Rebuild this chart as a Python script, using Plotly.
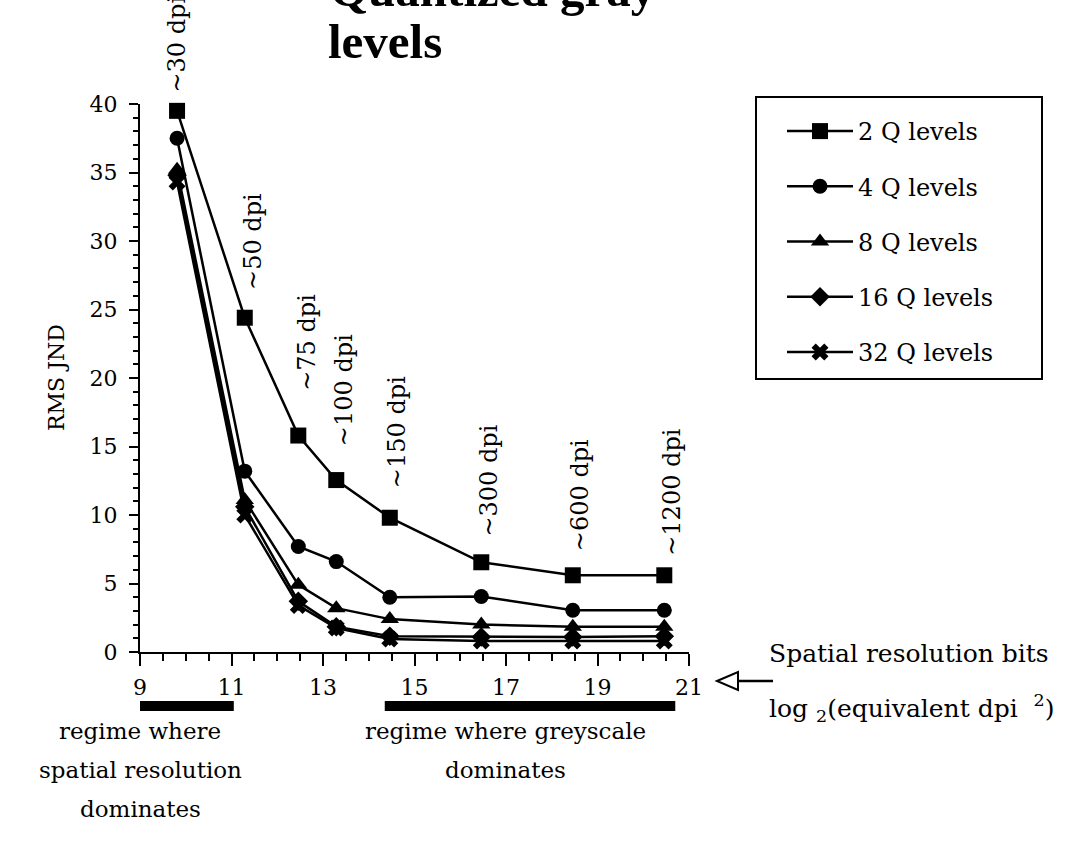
import plotly.graph_objects as go

# ---------------- data ----------------
dpi_labels = ["~30 dpi", "~50 dpi", "~75 dpi", "~100 dpi", "~150 dpi",
              "~300 dpi", "~600 dpi", "~1200 dpi"]
x_bits = [9.81, 11.29, 12.46, 13.29, 14.46, 16.46, 18.46, 20.46]
q2 = [39.5, 24.4, 15.8, 12.55, 9.8, 6.55, 5.6, 5.6]
q4 = [37.5, 13.2, 7.7, 6.6, 4.0, 4.05, 3.05, 3.05]
q8 = [35.2, 11.1, 4.9, 3.2, 2.4, 2.0, 1.85, 1.85]
q16 = [34.8, 10.6, 3.7, 1.85, 1.15, 1.1, 1.1, 1.15]
q32 = [34.3, 10.0, 3.4, 1.75, 0.95, 0.8, 0.8, 0.8]
series_names = ["2 Q levels", "4 Q levels", "8 Q levels", "16 Q levels", "32 Q levels"]
series_values = [q2, q4, q8, q16, q32]
label_y = [40.66, 26.3, 18.9, 14.9, 11.8, 8.3, 7.2, 6.9]   # bottom of each dpi label
x_ticks = [9, 11, 13, 15, 17, 19, 21]
y_ticks = [0, 5, 10, 15, 20, 25, 30, 35, 40]

# ---------------- style ----------------
FONT = "DejaVu Serif"
TFONT = "Liberation Serif"
symbols = ["square", "circle", "triangle-up", "diamond", "x"]
msizes = [16, 15, 16, 15, 15]

L, R, T, B = 140, 381, 104, 198
W, H = 1070, 850
PW, PH = W - L - R, H - T - B
YMAX = 40.0


def xp(px):
    return (px - L) / PW


def yp(py):
    return (H - B - py) / PH


fig = go.Figure()
for name, vals, sym, ms in zip(series_names, series_values, symbols, msizes):
    fig.add_trace(go.Scatter(
        x=x_bits, y=vals, name=name, legendgroup=name,
        mode="lines+markers",
        line=dict(color="black", width=2.5),
        marker=dict(symbol=sym, size=ms, color="black",
                    line=dict(color="black", width=0)),
        cliponaxis=False,
    ))

annotations = []
# dpi labels (paper y so that the top one is not hidden)
for i, (lab, xv, yv) in enumerate(zip(dpi_labels, x_bits, label_y)):
    annotations.append(dict(
        x=xv, y=yv / YMAX, xref="x", yref="paper", text=lab, showarrow=False,
        textangle=-90, xanchor="center", yanchor="bottom",
        xshift=0 if i == 0 else 8,
        font=dict(family=FONT, size=24, color="black")))

# title (partly cut at the top)
annotations.append(dict(x=xp(328), y=yp(-11), xref="paper", yref="paper",
                        text="<b>Quantized gray</b>", showarrow=False,
                        xanchor="left", yanchor="middle",
                        font=dict(family=TFONT, size=49, color="black")))
annotations.append(dict(x=xp(326), y=yp(41), xref="paper", yref="paper",
                        text="<b>levels</b>", showarrow=False,
                        xanchor="left", yanchor="middle",
                        font=dict(family=TFONT, size=49, color="black")))
# y title
annotations.append(dict(x=xp(56), y=0.5, xref="paper", yref="paper",
                        text="RMS JND", showarrow=False, textangle=-90,
                        xanchor="center", yanchor="middle",
                        font=dict(family=FONT, size=22, color="black")))
# x axis description on the right
annotations.append(dict(x=xp(767), y=yp(653), xref="paper", yref="paper",
                        text="Spatial resolution bits", showarrow=False,
                        xanchor="left", yanchor="middle",
                        font=dict(family=FONT, size=25, color="black")))
annotations.append(dict(x=xp(767), y=yp(708), xref="paper", yref="paper",
                        text="log <sub>2</sub>(equivalent dpi  <sup>2</sup>)",
                        showarrow=False, xanchor="left", yanchor="middle",
                        font=dict(family=FONT, size=25, color="black")))
# regime texts
for txt, py in [("regime where", 731), ("spatial resolution", 770), ("dominates", 809)]:
    annotations.append(dict(x=xp(140), y=yp(py), xref="paper", yref="paper",
                            text=txt, showarrow=False, xanchor="center",
                            yanchor="middle",
                            font=dict(family=FONT, size=23, color="black")))
for txt, py in [("regime where greyscale", 731), ("dominates", 770)]:
    annotations.append(dict(x=xp(505), y=yp(py), xref="paper", yref="paper",
                            text=txt, showarrow=False, xanchor="center",
                            yanchor="middle",
                            font=dict(family=FONT, size=23, color="black")))

shapes = [
    # regime bars
    dict(type="rect", xref="x", yref="paper", x0=8.8, x1=11.05,
         y0=yp(711), y1=yp(701), fillcolor="black", line=dict(width=0)),
    dict(type="rect", xref="x", yref="paper", x0=14.35, x1=20.7,
         y0=yp(711), y1=yp(701), fillcolor="black", line=dict(width=0)),
    # open arrow head + stem
    dict(type="path", xref="paper", yref="paper",
         path=f"M {xp(717)},{yp(681)} L {xp(738)},{yp(672)} L {xp(738)},{yp(690)} Z",
         line=dict(color="black", width=2), fillcolor="white"),
    dict(type="line", xref="paper", yref="paper", x0=xp(738), x1=xp(773),
         y0=yp(681), y1=yp(681), line=dict(color="black", width=2.5)),
    # legend box
    dict(type="rect", xref="paper", yref="paper", x0=xp(756), x1=xp(1042),
         y0=yp(379), y1=yp(97), line=dict(color="black", width=2),
         fillcolor="rgba(0,0,0,0)"),
]

fig.update_layout(
    width=W, height=H,
    margin=dict(l=L, r=R, t=T, b=B, pad=0),
    paper_bgcolor="white", plot_bgcolor="white",
    font=dict(family=FONT, color="black"),
    showlegend=True,
    legend=dict(x=xp(782), xanchor="left", y=yp(109), yanchor="top",
                font=dict(family=FONT, size=24, color="black"),
                tracegroupgap=21, itemwidth=66, traceorder="grouped",
                bgcolor="rgba(0,0,0,0)", borderwidth=0),
    xaxis=dict(range=[9, 21], tickvals=x_ticks, showgrid=False, zeroline=False,
               showline=True, linecolor="black", linewidth=2,
               ticks="outside", ticklen=12, tickwidth=2, tickcolor="black",
               minor=dict(dtick=0.5, ticks="outside", ticklen=7, tickwidth=2,
                          tickcolor="black", showgrid=False),
               tickfont=dict(family=FONT, size=22, color="black"),
               ticklabelstandoff=3),
    yaxis=dict(range=[0, 40], tickvals=y_ticks, showgrid=False, zeroline=False,
               showline=True, linecolor="black", linewidth=2,
               ticks="outside", ticklen=9, tickwidth=2, tickcolor="black",
               minor=dict(dtick=1, ticks="outside", ticklen=5, tickwidth=2,
                          tickcolor="black", showgrid=False),
               tickfont=dict(family=FONT, size=22, color="black"),
               ticklabelstandoff=7),
    annotations=annotations,
    shapes=shapes,
)

fig.write_html("out.html", config={"displayModeBar": False},
               post_script="document.body.style.margin='0';")
